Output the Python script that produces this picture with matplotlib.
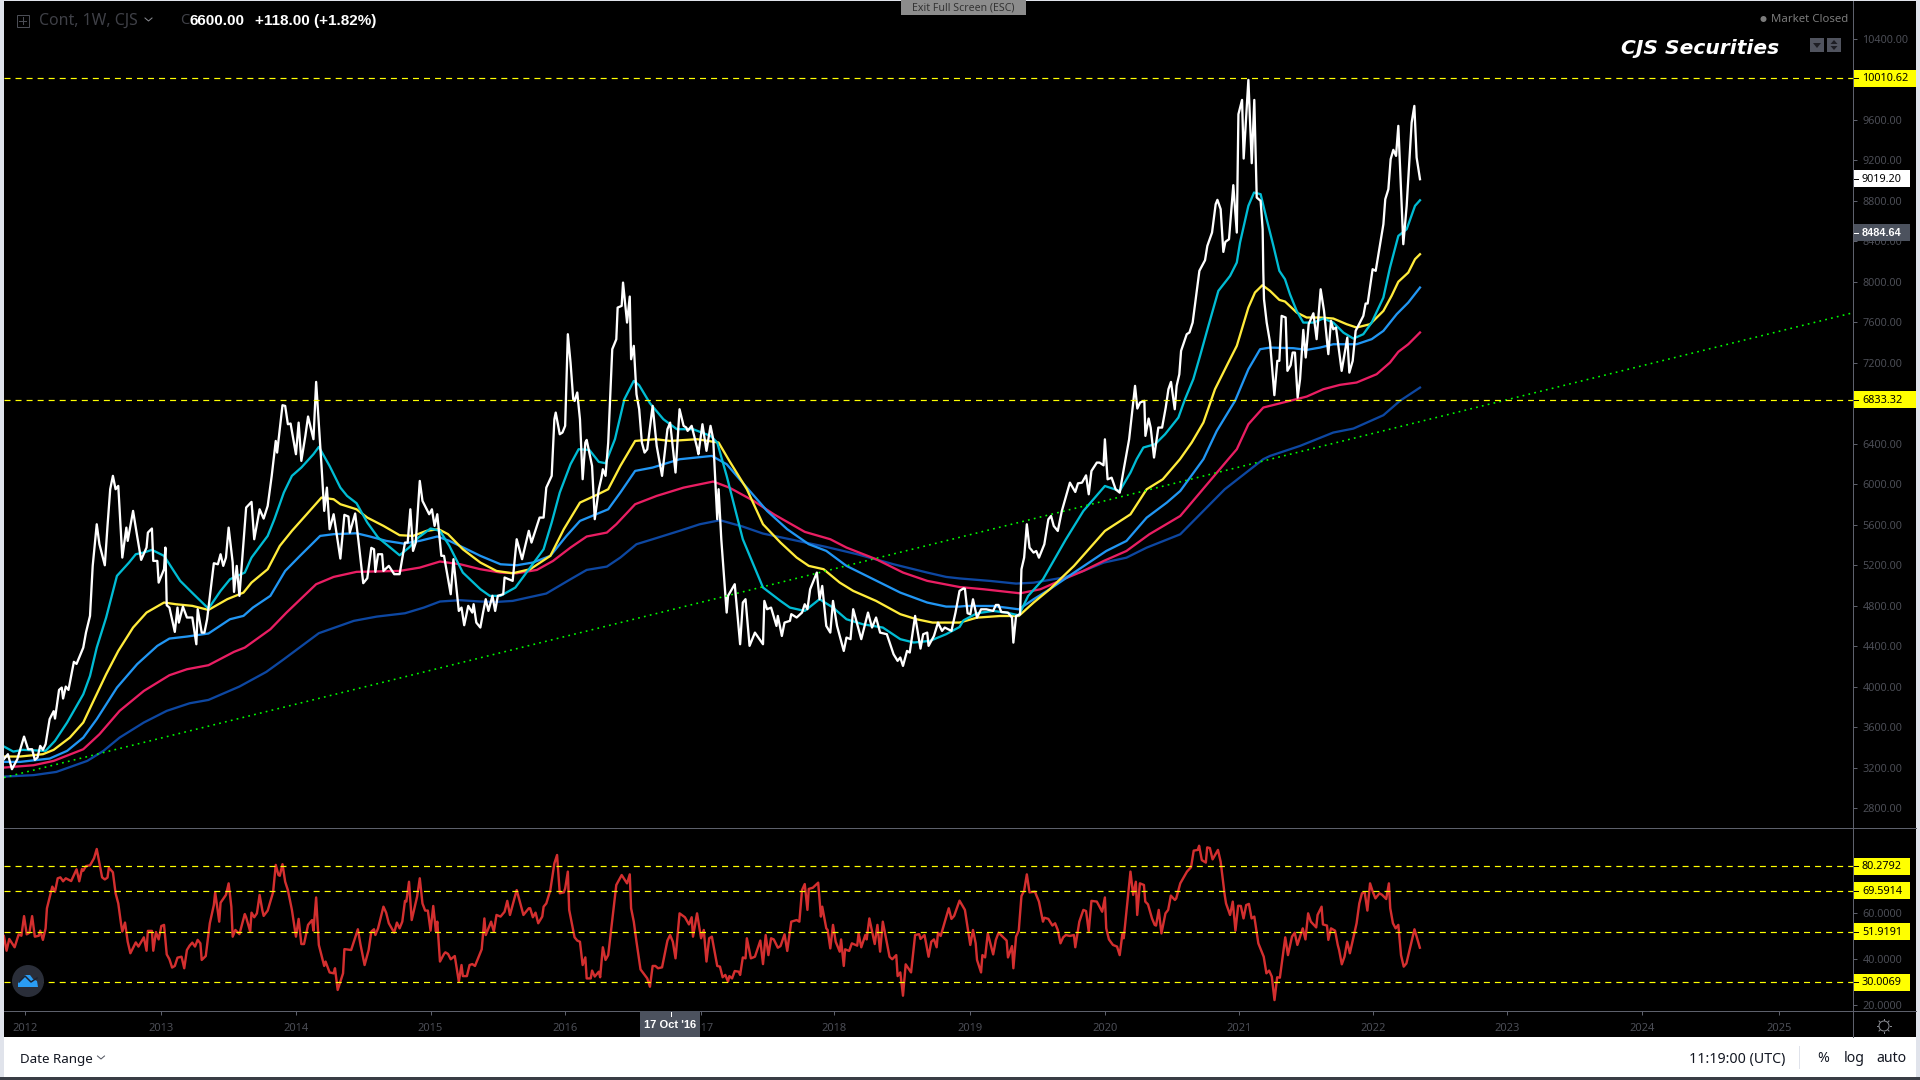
import matplotlib
matplotlib.use("Agg")
import matplotlib.pyplot as plt
from matplotlib.patches import Rectangle, Circle, Polygon

plt.rcParams['font.family'] = ['Noto Sans', 'DejaVu Sans']

# weekly close (t in decimal years)
price_t = [2011.84,2011.87,2011.90,2011.94,2011.99,2012.02,2012.05,2012.07,2012.09,2012.11,2012.13,2012.15,2012.18,2012.21,2012.22,2012.25,2012.27,2012.28,2012.30,2012.32,2012.36,2012.38,2012.43,2012.45,2012.48,2012.50,2012.53,2012.55,2012.59,2012.61,2012.63,2012.65,2012.67,2012.69,2012.72,2012.75,2012.76,2012.80,2012.83,2012.86,2012.90,2012.91,2012.94,2012.95,2012.98,2012.99,
           2013.03,2013.04,2013.05,2013.07,2013.11,2013.13,2013.14,2013.17,2013.20,2013.24,2013.27,2013.28,2013.31,2013.33,2013.35,2013.40,2013.43,2013.45,2013.47,2013.49,2013.51,2013.54,2013.55,2013.57,2013.59,2013.64,2013.68,2013.70,2013.74,2013.77,2013.80,2013.83,2013.86,2013.87,2013.91,2013.93,2013.95,2013.97,
           2014.01,2014.03,2014.05,2014.08,2014.10,2014.14,2014.16,2014.20,2014.22,2014.24,2014.26,2014.29,2014.34,2014.37,2014.40,2014.41,2014.45,2014.47,2014.51,2014.54,2014.57,2014.59,2014.60,2014.62,2014.65,2014.66,2014.70,2014.74,2014.78,2014.82,2014.84,2014.86,2014.88,2014.90,2014.93,2014.95,
           2015.00,2015.02,2015.04,2015.06,2015.09,2015.11,2015.16,2015.18,2015.22,2015.24,2015.26,2015.29,2015.32,2015.33,2015.35,2015.38,2015.40,2015.42,2015.44,2015.47,2015.49,2015.51,2015.55,2015.56,2015.62,2015.65,2015.69,2015.74,2015.76,2015.82,2015.85,2015.87,2015.91,2015.93,2015.94,2015.97,2015.99,
           2016.01,2016.03,2016.05,2016.07,2016.08,2016.10,2016.12,2016.14,2016.16,2016.17,2016.21,2016.23,2016.26,2016.28,2016.29,2016.31,2016.33,2016.36,2016.39,2016.40,2016.43,2016.44,2016.47,2016.49,2016.50,2016.52,2016.54,2016.56,2016.58,2016.60,2016.62,2016.66,2016.69,2016.73,2016.77,2016.79,2016.83,2016.86,2016.89,2016.91,2016.92,2016.95,2016.99,
           2017.00,2017.03,2017.06,2017.09,2017.11,2017.14,2017.15,2017.17,2017.21,2017.22,2017.27,2017.31,2017.33,2017.35,2017.38,2017.42,2017.48,2017.49,2017.51,2017.54,2017.58,2017.59,2017.62,2017.64,2017.68,2017.69,2017.73,2017.77,2017.79,2017.81,2017.83,2017.88,2017.90,2017.92,2017.95,2017.98,
           2018.00,2018.03,2018.08,2018.10,2018.13,2018.15,2018.21,2018.26,2018.29,2018.32,2018.35,2018.40,2018.45,2018.48,2018.50,2018.52,2018.55,2018.57,2018.61,2018.65,2018.67,2018.70,2018.71,2018.75,2018.78,2018.81,2018.83,2018.88,2018.91,2018.94,2018.97,2018.98,
           2019.00,2019.02,2019.04,2019.07,2019.10,2019.14,2019.19,2019.21,2019.23,2019.25,2019.30,2019.33,2019.34,2019.36,2019.39,2019.40,2019.42,2019.44,2019.46,2019.49,2019.51,2019.53,2019.57,2019.60,2019.62,2019.64,2019.67,2019.70,2019.76,2019.80,2019.82,2019.85,2019.88,2019.90,2019.92,2019.96,2019.98,
           2020.01,2020.02,2020.04,2020.07,2020.10,2020.13,2020.16,2020.20,2020.244,2020.261,2020.281,2020.313,2020.321,2020.345,2020.360,2020.385,2020.417,2020.445,2020.472,2020.492,2020.511,2020.539,2020.553,2020.573,2020.586,2020.628,2020.648,2020.672,2020.722,2020.764,2020.781,2020.816,2020.843,2020.856,2020.880,2020.900,2020.915,2020.942,2020.974,
           2021.00,2021.012,2021.039,2021.051,2021.086,2021.111,2021.130,2021.148,2021.177,2021.192,2021.197,2021.202,2021.222,2021.247,2021.279,2021.301,2021.316,2021.333,2021.363,2021.376,2021.400,2021.415,2021.432,2021.452,2021.470,2021.494,2021.512,2021.534,2021.569,2021.593,2021.623,2021.648,2021.680,2021.700,2021.717,2021.737,2021.779,2021.821,2021.836,2021.861,2021.883,2021.940,2021.957,2021.972,
           2022.009,2022.032,2022.089,2022.103,2022.126,2022.143,2022.163,2022.183,2022.200,2022.237,2022.262,2022.299,2022.319,2022.336,2022.361]
price_v = [3285,3334,3186,3285,3508,3383,3383,3278,3301,3416,3377,3433,3680,3759,3686,3969,3992,3884,4002,3969,4246,4226,4387,4535,4700,5194,5605,5408,5200,5589,5951,6083,5951,5984,5276,5572,5441,5737,5490,5253,5375,5523,5563,5243,5243,5029,
           5161,5375,4805,4782,4542,4782,4634,4792,4684,4684,4420,4766,4535,4535,4667,5220,5210,5309,5194,5276,5572,5227,4937,5194,4898,5770,5826,5457,5753,5661,5786,6083,6428,6313,6781,6774,6593,6600,
           6297,6609,6231,6478,6669,6445,7011,6181,5737,5967,5556,5704,5266,5698,5681,5523,5711,5490,5023,5072,5372,5358,5135,5309,5309,5144,5194,5112,5112,5424,5424,5753,5342,5424,6033,5836,
           5704,5753,5589,5704,5293,5293,4914,5260,4749,4782,4608,4799,4733,4815,4634,4585,4733,4865,4749,4898,4749,4898,4914,5079,5046,5457,5260,5540,5424,5671,5671,5967,6083,6642,6708,6494,6511,
           6577,7482,7202,6840,6823,6906,6642,6050,6412,6438,6181,5655,5951,6066,6149,6083,6412,7334,7432,7745,7762,7992,7597,7854,7235,7367,6889,6741,6412,6313,6346,6774,6379,6083,6544,6609,6116,6741,6577,6560,6527,6577,6363,
           6297,6593,6330,6577,6445,5655,5951,5457,4733,4898,5013,4420,4832,4865,4404,4535,4420,4848,4766,4782,4601,4700,4502,4634,4651,4717,4684,4733,4815,4766,4963,5128,4865,4996,4601,4535,
           4848,4601,4354,4486,4470,4766,4470,4733,4585,4684,4535,4519,4321,4256,4289,4206,4354,4338,4700,4377,4519,4535,4404,4502,4634,4552,4585,4552,4733,4947,4972,4969,
           4726,4716,4864,4683,4765,4765,4749,4808,4808,4739,4732,4683,4436,4699,4716,5160,5275,5605,5374,5325,5341,5275,5407,5654,5687,5588,5539,5736,6016,5924,6009,6016,6088,5901,6131,6214,6214,
           6187,6444,6049,6065,5950,5917,6148,6444,6972,6748,6807,6824,6478,6649,6560,6264,6560,6560,6758,6939,7011,6741,6972,7087,7318,7482,7499,7597,8108,8213,8354,8486,8766,8809,8717,8295,8394,8420,8954,
           8486,9655,9796,9217,9994,9171,9796,8832,8799,8519,8091,7828,7597,7400,6880,7219,7219,7663,7647,7120,7176,7301,7301,6857,7038,7525,7252,7581,7689,7433,7926,7712,7285,7614,7531,7548,7120,7449,7103,7219,7515,7663,7785,7785,
           8124,8108,8568,8815,8914,9210,9303,9243,9540,8371,8750,9573,9737,9227,9013]

# moving averages, fastest to slowest
cyan_t = [2011.84,2011.91,2011.98,2012.15,2012.22,2012.31,2012.43,2012.48,2012.53,2012.60,2012.68,2012.77,2012.82,2012.88,2012.94,2013.03,2013.15,2013.25,2013.36,2013.45,2013.52,2013.63,2013.68,2013.80,2013.85,2013.92,2013.98,2014.05,2014.14,2014.18,2014.26,2014.34,2014.39,2014.46,2014.54,2014.62,2014.71,2014.78,2014.85,2014.92,2015.01,2015.08,2015.15,2015.25,2015.38,2015.45,2015.53,2015.64,2015.75,2015.85,2015.91,2015.97,2016.05,2016.11,2016.19,2016.26,2016.31,2016.38,2016.45,2016.52,2016.56,2016.64,2016.74,2016.84,2016.96,2017.09,2017.14,2017.21,2017.33,2017.48,2017.61,2017.68,2017.79,2017.90,2018.00,2018.10,2018.22,2018.37,2018.50,2018.60,2018.72,2018.84,2018.94,2018.97,2019.07,2019.19,2019.29,2019.38,2019.45,2019.56,2019.73,2019.86,2020.02,2020.13,2020.21,2020.256,2020.306,2020.393,2020.467,2020.566,2020.615,2020.677,2020.727,2020.789,2020.863,2020.950,2021.00,2021.024,2021.086,2021.128,2021.177,2021.222,2021.272,2021.316,2021.358,2021.395,2021.445,2021.494,2021.569,2021.643,2021.717,2021.792,2021.866,2021.940,2022.002,2022.089,2022.138,2022.200,2022.262,2022.324,2022.361]
cyan_v = [3410,3360,3377,3367,3466,3647,3926,4107,4387,4684,5095,5227,5309,5326,5352,5293,5046,4914,4772,4947,5062,5128,5276,5490,5655,5918,6083,6165,6297,6369,6181,5967,5885,5813,5622,5474,5375,5299,5375,5474,5563,5540,5391,5128,4964,4898,4898,4980,5177,5358,5622,5918,6198,6346,6339,6221,6208,6445,6840,7021,6978,6800,6642,6544,6544,6478,6412,6083,5457,4980,4848,4782,4749,4865,4782,4667,4618,4585,4470,4437,4453,4519,4590,4656,4726,4749,4732,4706,4897,5061,5456,5736,5983,5934,6115,6248,6363,6396,6494,6659,6840,7038,7268,7564,7910,8058,8190,8387,8750,8881,8865,8618,8354,8108,8025,7877,7712,7597,7597,7637,7597,7498,7439,7482,7597,7844,8140,8453,8519,8750,8805]

yellow_t = [2011.84,2011.96,2012.13,2012.21,2012.33,2012.43,2012.50,2012.60,2012.69,2012.80,2012.90,2013.03,2013.12,2013.24,2013.36,2013.50,2013.62,2013.68,2013.80,2013.89,2013.98,2014.09,2014.20,2014.29,2014.34,2014.46,2014.54,2014.66,2014.78,2014.88,2014.98,2015.07,2015.14,2015.25,2015.38,2015.50,2015.62,2015.75,2015.90,2016.00,2016.12,2016.24,2016.33,2016.42,2016.53,2016.68,2016.79,2016.99,2017.15,2017.23,2017.36,2017.48,2017.61,2017.73,2017.82,2017.93,2018.05,2018.15,2018.32,2018.50,2018.62,2018.74,2018.94,2019.07,2019.24,2019.38,2019.49,2019.61,2019.79,2020.02,2020.21,2020.33,2020.45,2020.578,2020.665,2020.752,2020.838,2020.937,2021.00,2021.086,2021.135,2021.190,2021.247,2021.316,2021.358,2021.445,2021.519,2021.618,2021.717,2021.816,2021.890,2021.990,2022.089,2022.150,2022.200,2022.274,2022.324,2022.361]
yellow_v = [3311,3311,3334,3377,3498,3647,3844,4124,4354,4585,4733,4832,4815,4799,4759,4865,4930,5029,5161,5391,5540,5704,5869,5852,5803,5753,5671,5589,5497,5490,5540,5556,5507,5358,5227,5144,5121,5161,5293,5556,5819,5892,5951,6181,6428,6445,6428,6445,6412,6231,5951,5605,5424,5276,5194,5161,5029,4947,4848,4717,4667,4634,4634,4683,4699,4699,4831,4963,5193,5539,5703,5950,6049,6248,6412,6610,6939,7202,7367,7745,7894,7966,7910,7821,7805,7696,7647,7647,7637,7581,7548,7581,7712,7861,8000,8091,8223,8272]

blue_t = [2011.84,2011.96,2012.18,2012.31,2012.43,2012.53,2012.68,2012.83,2012.98,2013.07,2013.20,2013.36,2013.52,2013.62,2013.69,2013.82,2013.93,2014.04,2014.19,2014.29,2014.46,2014.56,2014.68,2014.81,2014.93,2015.06,2015.15,2015.28,2015.38,2015.53,2015.65,2015.77,2015.90,2016.02,2016.12,2016.33,2016.42,2016.53,2016.66,2016.86,2017.10,2017.21,2017.36,2017.51,2017.66,2017.82,2017.95,2018.10,2018.25,2018.50,2018.70,2018.84,2018.94,2018.99,2019.19,2019.38,2019.49,2019.61,2019.79,2020.03,2020.18,2020.33,2020.48,2020.58,2020.752,2020.851,2020.987,2021.086,2021.173,2021.247,2021.420,2021.519,2021.618,2021.717,2021.890,2022.002,2022.089,2022.188,2022.274,2022.361]
blue_v = [3258,3258,3291,3367,3498,3680,3992,4223,4404,4476,4496,4526,4667,4700,4782,4898,5144,5293,5490,5507,5516,5484,5441,5414,5441,5484,5441,5358,5293,5210,5200,5227,5293,5490,5638,5753,5918,6132,6165,6247,6280,6198,5967,5737,5556,5408,5342,5194,5095,4930,4832,4792,4792,4798,4798,4765,4864,4963,5127,5341,5440,5670,5819,5934,6248,6527,6824,7136,7334,7350,7344,7327,7350,7383,7383,7433,7515,7680,7795,7943]

pink_t = [2011.84,2012.06,2012.21,2012.43,2012.55,2012.70,2012.88,2013.07,2013.20,2013.36,2013.55,2013.63,2013.82,2013.94,2014.16,2014.29,2014.46,2014.78,2014.93,2015.08,2015.23,2015.38,2015.53,2015.65,2015.80,2015.92,2016.05,2016.17,2016.32,2016.39,2016.53,2016.69,2016.89,2017.11,2017.23,2017.41,2017.56,2017.79,2017.98,2018.10,2018.32,2018.52,2018.70,2018.94,2019.12,2019.39,2019.54,2019.71,2019.86,2020.01,2020.18,2020.35,2020.58,2020.937,2021.00,2021.086,2021.197,2021.296,2021.519,2021.643,2021.767,2021.890,2022.039,2022.138,2022.200,2022.274,2022.361]
pink_v = [3202,3225,3268,3383,3531,3762,3959,4114,4173,4213,4345,4387,4568,4733,5013,5085,5135,5144,5177,5237,5210,5161,5128,5121,5154,5243,5375,5484,5523,5605,5803,5885,5967,6027,5967,5836,5704,5530,5457,5375,5260,5128,5046,4985,4963,4923,4963,5061,5144,5242,5341,5506,5687,6248,6346,6593,6758,6791,6866,6939,6982,7005,7087,7202,7308,7383,7499]

navy_t = [2011.84,2012.06,2012.23,2012.46,2012.58,2012.70,2012.88,2013.05,2013.22,2013.36,2013.59,2013.79,2013.92,2014.18,2014.44,2014.61,2014.82,2014.96,2015.08,2015.23,2015.38,2015.50,2015.62,2015.87,2016.05,2016.17,2016.32,2016.42,2016.54,2016.66,2016.86,2017.01,2017.16,2017.33,2017.48,2017.68,2017.95,2018.18,2018.45,2018.70,2018.84,2018.94,2019.17,2019.36,2019.49,2019.71,2019.86,2020.01,2020.18,2020.33,2020.58,2020.91,2021.197,2021.247,2021.470,2021.717,2021.866,2022.089,2022.212,2022.361]
navy_v = [3113,3127,3159,3268,3367,3498,3647,3762,3837,3870,4002,4147,4272,4529,4651,4693,4726,4782,4842,4855,4842,4838,4848,4921,5062,5154,5187,5276,5408,5457,5540,5605,5645,5582,5513,5457,5381,5309,5210,5128,5085,5070,5045,5019,5028,5078,5144,5226,5275,5374,5506,5950,6248,6280,6379,6511,6550,6682,6824,6955]

# rising support line
trend_t = [2011.84, 2025.578]
trend_v = [3103, 7694]

# oscillator
rsi_t = [2011.84,2011.86,2011.88,2011.92,2011.95,2011.97,2011.99,2012.01,2012.03,2012.05,2012.07,2012.10,2012.11,2012.13,2012.15,2012.16,2012.20,2012.22,2012.24,2012.26,2012.28,2012.30,2012.34,2012.38,2012.40,2012.42,2012.43,2012.45,2012.48,2012.51,2012.53,2012.55,2012.57,2012.59,2012.61,2012.62,2012.65,2012.67,2012.69,2012.71,2012.72,2012.74,2012.76,2012.78,2012.82,2012.84,2012.88,2012.90,2012.91,2012.94,2012.95,2012.97,2012.99,
         2013.01,2013.03,2013.05,2013.07,2013.09,2013.11,2013.13,2013.16,2013.18,2013.20,2013.22,2013.24,2013.26,2013.28,2013.30,2013.31,2013.34,2013.37,2013.40,2013.41,2013.44,2013.45,2013.49,2013.51,2013.53,2013.54,2013.56,2013.59,2013.63,2013.64,2013.67,2013.68,2013.70,2013.72,2013.74,2013.76,2013.77,2013.80,2013.84,2013.86,2013.88,2013.89,2013.91,2013.93,2013.95,2013.98,
         2014.01,2014.03,2014.05,2014.07,2014.10,2014.13,2014.14,2014.16,2014.18,2014.22,2014.23,2014.26,2014.29,2014.30,2014.32,2014.36,2014.37,2014.42,2014.47,2014.49,2014.52,2014.55,2014.57,2014.59,2014.60,2014.62,2014.66,2014.68,2014.70,2014.74,2014.76,2014.78,2014.80,2014.82,2014.83,2014.85,2014.87,2014.91,2014.93,2014.95,2014.97,2014.99,
         2015.01,2015.03,2015.05,2015.06,2015.08,2015.11,2015.12,2015.14,2015.16,2015.19,2015.22,2015.24,2015.25,2015.28,2015.30,2015.32,2015.34,2015.39,2015.41,2015.42,2015.46,2015.48,2015.50,2015.53,2015.56,2015.58,2015.60,2015.65,2015.70,2015.74,2015.75,2015.77,2015.79,2015.81,2015.84,2015.85,2015.87,2015.90,2015.93,2015.95,2015.97,
         2016.00,2016.01,2016.03,2016.04,2016.08,2016.10,2016.12,2016.14,2016.16,2016.17,2016.20,2016.21,2016.23,2016.26,2016.27,2016.29,2016.31,2016.33,2016.39,2016.43,2016.47,2016.49,2016.50,2016.52,2016.54,2016.57,2016.62,2016.64,2016.66,2016.68,2016.70,2016.73,2016.77,2016.79,2016.81,2016.83,2016.86,2016.90,2016.93,2016.95,2016.96,2016.99,
         2017.02,2017.04,2017.06,2017.08,2017.10,2017.14,2017.16,2017.18,2017.20,2017.22,2017.23,2017.25,2017.27,2017.30,2017.31,2017.33,2017.35,2017.36,2017.39,2017.42,2017.46,2017.48,2017.50,2017.52,2017.54,2017.56,2017.59,2017.61,2017.64,2017.66,2017.69,2017.73,2017.75,2017.77,2017.79,2017.81,2017.82,2017.85,2017.89,2017.91,2017.92,2017.95,2017.96,2017.98,
         2018.00,2018.02,2018.05,2018.06,2018.08,2018.09,2018.12,2018.14,2018.18,2018.19,2018.21,2018.24,2018.25,2018.27,2018.31,2018.33,2018.35,2018.37,2018.42,2018.44,2018.47,2018.48,2018.50,2018.52,2018.54,2018.58,2018.61,2018.64,2018.65,2018.68,2018.71,2018.73,2018.75,2018.77,2018.78,2018.80,2018.86,2018.88,2018.90,2018.94,2018.98,
         2019.01,2019.02,2019.04,2019.06,2019.07,2019.10,2019.11,2019.13,2019.15,2019.19,2019.21,2019.23,2019.29,2019.30,2019.33,2019.34,2019.36,2019.38,2019.40,2019.42,2019.44,2019.46,2019.50,2019.53,2019.56,2019.57,2019.60,2019.63,2019.65,2019.67,2019.69,2019.71,2019.73,2019.76,2019.79,2019.80,2019.83,2019.86,2019.88,2019.90,2019.92,2019.96,
         2020.00,2020.02,2020.03,2020.05,2020.08,2020.11,2020.13,2020.15,2020.16,2020.21,2020.23,2020.25,2020.26,2020.28,2020.31,2020.32,2020.34,2020.37,2020.39,2020.40,2020.42,2020.44,2020.47,2020.49,2020.51,2020.54,2020.55,2020.58,2020.63,2020.66,2020.68,2020.71,2020.72,2020.74,2020.77,2020.78,2020.80,2020.82,2020.86,2020.88,2020.91,2020.92,2020.95,2020.97,2020.99,
         2021.01,2021.03,2021.05,2021.07,2021.09,2021.11,2021.13,2021.16,2021.20,2021.22,2021.24,2021.26,2021.28,2021.30,2021.32,2021.36,2021.38,2021.41,2021.43,2021.45,2021.49,2021.51,2021.53,2021.55,2021.59,2021.60,2021.63,2021.64,2021.67,2021.68,2021.70,2021.73,2021.75,2021.76,2021.78,2021.80,2021.82,2021.84,2021.89,2021.91,2021.93,2021.95,2021.97,2021.99,
         2022.01,2022.03,2022.06,2022.08,2022.11,2022.13,2022.14,2022.16,2022.18,2022.20,2022.22,2022.24,2022.26,2022.32,2022.36]
rsi_v = [50.1,43.7,48.8,45.2,50.8,50.2,58.7,50.8,51.5,58.7,49.8,50.2,52.4,48.4,53.4,62.1,71.5,69.3,75.1,75.5,73.8,75.1,73.9,79.0,73.8,79.1,78.4,80.4,80.7,83.8,87.8,81.6,75.5,74.6,75.4,79.7,77.7,68.6,64.2,55.6,52.0,55.9,47.6,42.6,47.3,45.5,49.5,43.7,52.3,52.3,43.7,51.8,48.6,
         54.4,54.9,42.1,40.0,36.4,37.1,40.7,41.1,36.1,44.0,45.9,47.2,45.5,48.4,46.9,39.7,41.4,55.6,63.5,69.0,56.3,64.5,67.9,72.9,62.8,49.8,52.7,50.9,59.6,58.2,52.0,60.2,58.2,59.9,67.9,61.3,58.8,61.1,69.0,80.9,76.5,76.2,81.2,73.6,70.0,61.4,
         49.8,57.5,46.6,46.6,54.9,57.0,52.4,66.8,46.2,37.1,39.0,34.3,33.9,36.1,26.7,33.9,44.4,44.0,53.0,46.2,37.5,44.0,52.0,53.0,50.5,53.4,62.8,60.2,55.6,51.5,55.9,53.4,56.3,65.3,65.0,73.6,57.0,67.1,75.1,64.2,61.1,61.1,
         52.4,63.1,52.0,56.3,39.0,42.3,43.0,42.3,40.0,41.4,30.3,37.5,32.7,32.7,37.5,37.9,37.1,44.3,57.7,50.5,56.3,52.0,59.2,58.5,60.6,65.3,59.2,70.0,59.2,62.1,62.1,58.2,60.2,55.6,58.5,62.8,64.2,70.0,81.6,85.2,68.6,
         69.0,70.7,78.0,61.4,49.5,48.1,47.6,37.5,40.8,31.7,31.7,35.1,32.5,34.6,32.2,45.2,39.7,41.8,72.2,76.5,72.9,76.8,62.1,56.3,47.6,35.6,31.7,28.1,37.1,37.1,36.1,36.5,48.1,50.5,47.6,40.4,59.9,58.2,55.1,58.2,49.8,59.9,
         49.1,52.7,39.0,49.1,49.8,37.1,36.8,32.2,33.2,30.3,32.7,31.7,34.9,34.6,33.2,40.8,40.4,49.1,40.4,41.1,48.1,37.9,50.5,41.8,49.1,48.6,45.0,45.7,50.8,43.6,56.3,57.0,56.3,70.0,72.6,61.4,70.5,71.0,73.2,58.5,62.8,53.4,52.7,44.7,
         54.9,47.6,43.3,48.6,37.1,44.3,43.6,46.9,45.9,51.2,45.2,50.5,48.6,57.7,46.6,54.9,43.3,56.3,41.1,40.0,41.8,32.7,34.3,24.2,37.8,34.3,50.5,50.9,48.8,50.5,41.1,47.6,48.6,45.2,51.5,50.1,62.1,57.5,58.8,65.4,61.4,
         49.8,46.2,52.7,46.9,39.7,34.3,41.8,40.8,51.2,42.1,48.4,51.5,48.1,40.8,45.7,36.1,49.8,52.4,67.4,69.7,76.8,69.0,69.3,65.0,56.3,58.0,57.5,54.6,55.6,52.7,46.9,49.5,50.5,50.1,50.5,45.2,56.3,61.4,60.9,52.0,65.3,65.0,
         60.6,66.8,53.4,48.6,46.2,45.5,41.8,50.9,49.1,78.0,67.9,73.6,59.2,72.9,72.2,65.0,63.8,57.7,54.9,54.6,61.4,51.2,59.9,61.4,67.6,65.7,66.4,72.9,78.0,79.9,87.1,87.4,89.2,83.0,81.9,88.5,88.2,83.3,87.4,82.3,67.9,64.2,59.2,65.0,52.4,
         63.2,63.1,57.7,63.5,64.0,57.7,58.5,46.9,41.1,33.9,35.1,32.5,22.3,32.2,32.0,49.5,41.8,49.8,51.5,46.2,53.4,48.6,59.9,56.3,53.8,59.2,62.8,55.1,54.6,48.4,53.4,52.4,46.2,44.0,37.8,41.1,47.6,42.6,55.6,64.2,68.6,69.0,61.1,72.9,
         69.3,66.4,68.6,67.9,66.1,72.9,62.1,55.6,53.4,54.9,41.8,36.8,38.2,53.0,45.0]

# axis ticks and horizontal levels
year_ticks = [2012.0,2013.01,2014.01,2015.01,2016.01,2017.02,2018.01,2019.02,2020.02,2021.02,2022.01,2023.01,2024.01,2025.03]
year_labels = ['2012','2013','2014','2015','2016','2017','2018','2019','2020','2021','2022','2023','2024','2025']
price_ticks = [2800,3200,3600,4000,4400,4800,5200,5600,6000,6400,6800,7200,7600,8000,8400,8800,9200,9600,10000,10400]
price_hidden = [6800, 10000]  # these two labels sit under the level tags
rsi_ticks = [20,40,60]
price_levels = [10010.62, 6833.32]
rsi_levels = [80.2792, 69.5914, 51.9191, 30.0069]
last_close = 9019.20
cursor_price = 8484.64
cursor_date = 2016.797

DIM = '#4b4d55'
AXIS = '#5d606b'
YEL = '#ffff00'
ptx = 1 / 100 * 72  # one pixel in points

fig = plt.figure(figsize=(19.2, 10.8), dpi=100, facecolor='black')
ax = fig.add_axes([4 / 1920, (1080 - 827) / 1080, 1849 / 1920, 826 / 1080], facecolor='black')
ax2 = fig.add_axes([4 / 1920, (1080 - 1011) / 1080, 1849 / 1920, 183 / 1080], facecolor='black')

for a in (ax, ax2):
    a.set_xlim(2011.841, 2025.578)
    for s in ['top', 'left', 'bottom']:
        a.spines[s].set_visible(False)
    a.spines['right'].set_color(AXIS)
    a.spines['right'].set_linewidth(1 * ptx)
    a.yaxis.tick_right()
    a.tick_params(axis='y', colors=AXIS, labelcolor=DIM, labelsize=7.8, length=4 * ptx, width=1 * ptx, pad=4)

ax.set_ylim(2615, 10773)
ax2.set_ylim(17.57, 96.9)
ax.set_xticks([])
ax.set_yticks(price_ticks)
ax.set_yticklabels(['' if p in price_hidden else '%.2f' % p for p in price_ticks])
ax2.set_yticks(rsi_ticks)
ax2.set_yticklabels(['%.4f' % r for r in rsi_ticks])
ax2.set_xticks(year_ticks)
ax2.set_xticklabels(year_labels)
ax2.tick_params(axis='x', colors=AXIS, labelcolor=DIM, labelsize=8, length=4 * ptx, width=1 * ptx, pad=6)
ax2.spines['bottom'].set_visible(True)
ax2.spines['bottom'].set_color(AXIS)
ax2.spines['bottom'].set_linewidth(1 * ptx)

lw = 2.3 * ptx
ax.plot(navy_t, navy_v, color='#0d47a1', lw=lw)
ax.plot(pink_t, pink_v, color='#e91e63', lw=lw)
ax.plot(blue_t, blue_v, color='#2196f3', lw=lw)
ax.plot(yellow_t, yellow_v, color='#ffeb3b', lw=lw)
ax.plot(cyan_t, cyan_v, color='#00bcd4', lw=lw)
ax.plot(price_t, price_v, color='white', lw=lw)
ax.plot(trend_t, trend_v, color='#00ff00', lw=1.6 * ptx, linestyle=(0, (1.1, 2.65)))
for lev in price_levels:
    ax.axhline(lev, color=YEL, lw=1.2 * ptx, linestyle=(0, (5, 4.2)))

ax2.plot(rsi_t, rsi_v, color='#d32f2f', lw=2.4 * ptx)
for lev in rsi_levels:
    ax2.axhline(lev, color=YEL, lw=1.2 * ptx, linestyle=(0, (5, 4.2)))

# interface layer on top of the chart, in screen pixels
ui = fig.add_axes([0, 0, 1, 1], facecolor='none', zorder=10)
ui.set_xlim(0, 1920)
ui.set_ylim(1080, 0)
ui.axis('off')


def box(x, y, w, h, color, **kw):
    ui.add_patch(Rectangle((x, y), w, h, facecolor=color, edgecolor='none', **kw))


def tag(a, value, text, bg, fg, width, bold=False):
    y = 1080 - a.transData.transform((2015, value))[1]
    box(1854, y - 8.5, width, 17, bg)
    ui.plot([1854, 1858], [y, y], color=fg, lw=1 * ptx)
    ui.text(1862, y + 0.5, text, color=fg, fontsize=7.8, va='center', ha='left',
            fontweight='bold' if bold else 'normal',
            family='Liberation Sans' if bold else 'Noto Sans')


def chevron(x, y, color):
    ui.plot([x - 3.5, x, x + 3.5], [y - 1.5, y + 1.5, y - 1.5], color=color, lw=1 * ptx)


for lev in price_levels:
    tag(ax, lev, '%.2f' % lev, YEL, 'black', 62)
tag(ax, last_close, '%.2f' % last_close, 'white', 'black', 56)
tag(ax, cursor_price, '%.2f' % cursor_price, '#4c525e', 'white', 56, bold=True)
for lev in rsi_levels:
    tag(ax2, lev, '%.4f' % lev, YEL, 'black', 56)

# window edges and pane separator
box(0, 0, 4, 1080, '#e0e3eb')
box(0, 0, 1920, 1, '#e0e3eb')
box(1916, 0, 4, 1080, '#e0e3eb')
ui.plot([4, 1916], [827.5, 827.5], color=AXIS, lw=1 * ptx)
ui.plot([1853, 1916], [1011, 1011], color=AXIS, lw=1 * ptx)
ui.plot([1853, 1853], [1011, 1037], color=AXIS, lw=1 * ptx)

# header
ui.add_patch(Rectangle((16.5, 14.5), 12, 12, facecolor='none', edgecolor=DIM, lw=1 * ptx))
ui.plot([22.5, 22.5], [17, 24], color=DIM, lw=1 * ptx)
ui.plot([19, 26], [20.5, 20.5], color=DIM, lw=1 * ptx)
ui.text(39, 21, 'Cont, 1W, CJS', color='#3f4047', fontsize=11.4, va='center')
chevron(148.5, 19.5, '#8a8c92')
ui.text(180, 21, 'C', color='#3f4047', fontsize=10.6, va='center')
ui.text(189, 21, '6600.00', color='white', fontsize=11, va='center', fontweight='bold', family='Liberation Sans')
ui.text(255, 21, '+118.00 (+1.82%)', color='white', fontsize=11, va='center', fontweight='bold',
        family='Liberation Sans')

box(901, 0, 125, 15, '#8c8c8c')
ui.text(963.5, 7.5, 'Exit Full Screen (ESC)', color='#333333', fontsize=7.6, ha='center', va='center')

ui.add_patch(Circle((1763.5, 19), 3, facecolor='#7b7b7b', edgecolor='none'))
ui.text(1771, 19, 'Market Closed', color='#7b7b7b', fontsize=8.2, va='center')
ui.text(1621, 48, 'CJS Securities', color='white', fontsize=14.6, va='center', fontweight='bold',
        fontstyle='italic', family='DejaVu Sans')
box(1810, 38, 14, 14, '#50535e')
box(1827, 38, 14, 14, '#50535e')
ui.add_patch(Polygon([[1813, 43], [1821, 43], [1817, 48]], facecolor='#1e1e24', edgecolor='none'))
ui.add_patch(Polygon([[1830.5, 44], [1837.5, 44], [1834, 40]], facecolor='#1e1e24', edgecolor='none'))
ui.add_patch(Polygon([[1830.5, 46], [1837.5, 46], [1834, 50]], facecolor='#1e1e24', edgecolor='none'))

# logo badge
ui.add_patch(Circle((28, 981), 16, facecolor='#2a2e39', edgecolor='none'))
ui.add_patch(Polygon([[18, 987], [18, 982], [22, 979], [25, 975], [30, 975], [33, 979], [37, 981], [38, 987]],
                     facecolor='#2a9df4', edgecolor='none'))
ui.plot([19, 25, 31, 37], [982, 976, 982, 978], color='#1d2230', lw=1.5 * ptx)

# date under the cursor
xc = ax2.transData.transform((cursor_date, 50))[0]
box(xc - 31, 1011, 60, 26, '#4c525e')
ui.plot([xc, xc], [1012, 1016], color='white', lw=1 * ptx)
ui.text(xc - 1, 1024.5, "17 Oct '16", color='white', fontsize=8, ha='center', va='center', fontweight='bold',
        family='Liberation Sans')

# settings icon
ui.add_patch(Circle((1884, 1026), 5, facecolor='none', edgecolor='#8a8c92', lw=1 * ptx))
for dx, dy in [(0, -7), (0, 7), (-7, 0), (7, 0), (-5, -5), (5, -5), (-5, 5), (5, 5)]:
    ui.plot([1884 + dx * 0.8, 1884 + dx], [1026 + dy * 0.8, 1026 + dy], color='#8a8c92', lw=1 * ptx)

# footer bar
box(4, 1037, 1912, 40, 'white')
box(0, 1077, 1920, 3, '#3a3d45')
ui.text(20, 1059, 'Date Range', color='#131722', fontsize=9.6, va='center')
chevron(101, 1057.5, '#50535e')
ui.text(1689, 1059, '11:19:00 (UTC)', color='#131722', fontsize=10.2, va='center')
ui.plot([1799, 1799], [1046, 1068], color='#e0e3eb', lw=1 * ptx)
ui.text(1823, 1059, '%', color='#131722', fontsize=10.2, ha='center', va='center')
ui.text(1854, 1059, 'log', color='#131722', fontsize=10.2, ha='center', va='center')
ui.text(1891, 1059, 'auto', color='#131722', fontsize=10.2, ha='center', va='center')

fig.savefig('out.png', dpi=100, facecolor='black')
